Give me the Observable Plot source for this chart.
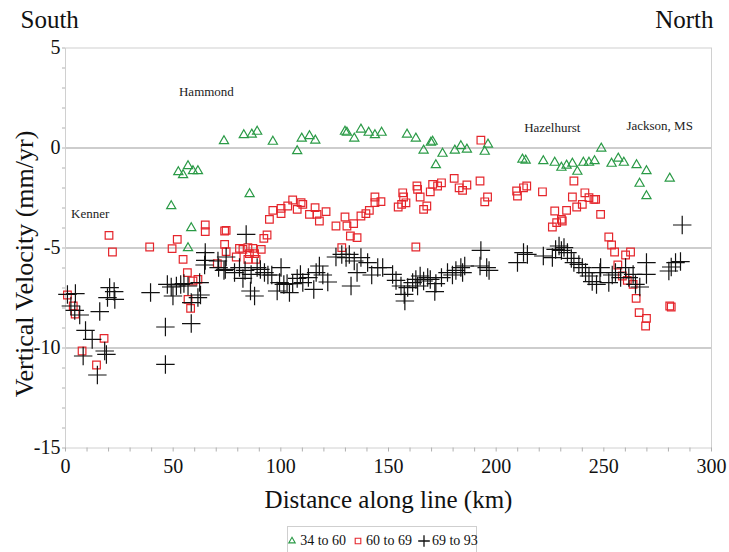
<!DOCTYPE html>
<html><head><meta charset="utf-8">
<script src="https://cdn.jsdelivr.net/npm/d3@7"></script>
<script src="https://cdn.jsdelivr.net/npm/@observablehq/plot@0.6"></script>
<style>
html,body{margin:0;padding:0;background:#fff;}
#wrap{position:relative;width:729px;height:552px;font-family:"Liberation Serif","Times New Roman",serif;overflow:hidden;}
#legend{position:absolute;left:287px;top:526px;width:190px;height:30px;border:1px solid #cfcfcf;box-sizing:border-box;display:flex;align-items:center;justify-content:center;gap:0;font-size:14px;color:#111;white-space:nowrap;}
#legend span{display:inline-flex;align-items:center;margin:0 3px;}
#legend svg{overflow:visible;margin-right:2px;}
</style></head>
<body><div id="wrap"></div>
<script>
// ---- data ----
const seriesNames = ["34 to 60", "60 to 69", "69 to 93"];

const green_km = [49.1,52.4,54.6,56.9,59.2,61.5,58.4,56.9,73.6,82.8,86.5,89.0,96.3,107.6,109.7,113.3,116.0,129.8,130.7,134.1,137.2,140.8,143.7,146.8,85.5,158.6,162.7,166.3,169.7,170.5,172.0,175.1,180.8,183.6,186.4,194.7,196.2,212.2,213.7,221.9,227.2,230.3,232.7,235.4,237.7,240.5,243.1,245.7,248.8,253.6,256.7,259.3,265.2,269.8,266.6,269.8,280.6];
const green_vel = [-2.9,-1.2,-1.35,-0.9,-1.15,-1.15,-4.0,-5.0,0.35,0.65,0.68,0.82,0.32,-0.15,0.48,0.6,0.38,0.82,0.77,0.48,0.93,0.77,0.65,0.77,-2.3,0.68,0.48,-0.12,0.27,0.32,-0.85,-0.28,-0.12,0.1,-0.07,-0.18,0.18,-0.57,-0.62,-0.65,-0.73,-0.98,-0.87,-0.78,-1.18,-0.73,-0.73,-0.65,-0.02,-0.78,-0.52,-0.73,-0.85,-1.15,-1.78,-2.4,-1.52];

const red_km = [0.9,3.6,4.5,20.2,21.8,17.9,7.7,14.4,39.1,49.5,51.9,54.6,56.6,59.2,61.5,56.9,58.1,64.9,64.9,73.9,70.5,74.6,73.9,74.6,80.8,79.3,82.4,84.7,87.0,90.9,85.4,87.8,84.7,88.5,92.1,93.6,94.7,96.3,100.1,100.1,103.2,105.5,107.6,109.4,110.2,113.3,115.9,116.8,117.9,121.0,125.6,129.8,130.7,132.3,135.4,133.8,137.2,139.5,141.1,143.7,143.7,146.5,128.3,154.5,156.6,157.0,158.1,156.1,163.2,163.5,164.7,166.3,167.8,169.4,170.5,172.8,174.6,180.5,182.8,184.4,186.4,192.5,192.9,194.7,196.0,162.7,209.5,209.9,212.7,214.2,221.5,236.1,227.2,226.1,228.1,230.3,230.7,232.7,235.4,237.4,240.0,241.2,243.1,245.4,246.2,248.5,252.3,253.6,255.0,260.1,262.4,256.5,258.6,260.9,263.6,265.0,266.4,269.8,269.4,280.6,281.3];
const red_vel = [-7.35,-7.9,-8.3,-4.37,-5.2,-9.52,-10.15,-10.85,-4.95,-5.03,-4.57,-5.57,-6.23,-6.65,-6.57,-7.57,-8.02,-3.85,-4.18,-4.15,-5.78,-4.12,-4.82,-5.18,-5.02,-5.45,-5.07,-4.98,-5.02,-5.07,-5.28,-5.28,-5.57,-5.57,-4.52,-4.35,-3.57,-3.12,-3.02,-3.28,-2.9,-2.6,-3.07,-2.73,-2.82,-3.32,-2.98,-3.32,-3.65,-3.18,-3.9,-3.45,-3.9,-4.4,-4.48,-3.78,-3.4,-3.28,-3.12,-2.45,-2.73,-2.68,-4.98,-2.95,-2.24,-2.45,-2.74,-2.82,-1.9,-2.07,-2.45,-3.07,-2.9,-2.19,-1.82,-1.9,-1.74,-1.52,-1.99,-2.12,-1.85,-1.65,0.39,-2.69,-2.45,-4.95,-2.15,-2.4,-1.99,-1.9,-2.19,-1.65,-3.15,-3.95,-3.73,-3.57,-3.65,-3.12,-2.45,-2.95,-2.82,-2.24,-2.48,-2.57,-2.57,-3.32,-4.45,-4.85,-5.2,-5.35,-5.2,-5.85,-6.4,-6.62,-6.82,-7.52,-8.23,-8.52,-8.9,-7.9,-7.95];

const black_km = [0.9,4.6,2.5,4.3,6.6,15.9,9.3,12.4,8.2,18.2,19.0,14.8,20.5,19.5,22.6,22.9,39.5,46.4,46.4,47.3,49.1,49.9,51.5,53.5,55.0,56.9,58.4,58.4,61.5,62.7,62.3,64.9,64.9,64.6,70.8,71.1,73.6,74.2,74.6,83.9,78.5,80.8,82.4,83.4,85.9,87.8,86.2,89.0,90.5,92.4,94.0,95.8,98.3,99.4,100.1,101.4,102.9,104.0,105.5,107.6,109.1,110.2,112.8,115.3,116.4,117.9,119.5,121.8,125.6,128.3,130.3,131.8,132.6,134.1,137.2,135.4,140.3,142.2,145.0,147.3,151.9,153.5,155.8,157.3,157.6,158.9,161.2,162.7,163.5,164.7,166.3,168.2,169.4,171.5,172.0,174.6,177.4,179.7,181.3,183.6,185.4,184.4,192.9,192.5,195.6,196.7,209.9,212.7,214.5,221.9,226.1,227.6,229.2,230.3,231.5,233.1,234.9,236.1,238.4,240.0,241.5,243.1,244.6,246.6,248.5,248.2,252.3,253.9,255.4,257.8,260.1,261.6,263.6,264.7,266.7,269.8,269.8,280.2,281.3,283.3,285.6,286.4];
const black_vel = [-7.32,-7.28,-7.9,-8.12,-8.35,-8.18,-9.12,-9.57,-10.4,-10.15,-10.32,-11.35,-6.98,-7.48,-7.18,-7.57,-7.23,-8.95,-10.82,-6.82,-6.95,-7.4,-6.9,-6.82,-6.78,-6.9,-8.78,-7.73,-7.48,-7.35,-6.73,-5.23,-5.62,-5.85,-5.65,-5.98,-6.12,-6.07,-5.45,-4.32,-6.23,-5.98,-6.52,-6.12,-7.15,-7.4,-6.32,-5.98,-6.07,-6.23,-6.35,-6.35,-7.15,-6.73,-5.98,-6.82,-6.78,-7.23,-6.78,-6.52,-6.32,-6.73,-6.48,-7.07,-6.23,-5.9,-6.35,-6.7,-5.45,-5.32,-5.48,-5.32,-6.9,-5.65,-5.48,-6.23,-5.73,-6.35,-5.98,-5.98,-6.32,-6.62,-6.9,-7.32,-7.65,-6.98,-6.73,-6.57,-6.9,-6.4,-6.65,-6.48,-6.57,-7.18,-6.78,-6.48,-6.23,-6.35,-6.12,-5.98,-5.9,-6.23,-5.12,-5.9,-5.98,-6.12,-5.73,-5.23,-5.32,-5.4,-5.48,-5.07,-4.9,-5.12,-4.98,-5.23,-5.52,-5.73,-5.82,-5.98,-6.23,-6.4,-6.68,-6.82,-5.98,-6.23,-6.73,-6.35,-6.23,-6.48,-5.98,-6.48,-6.32,-6.82,-6.95,-5.73,-6.32,-6.15,-5.95,-5.73,-5.68,-3.85];

const city_names = ["Kenner", "Hammond", "Hazelhurst", "Jackson, MS"];
const city_km = [2.6, 52.7, 213.0, 260.5];
const city_vel = [-3.3, 2.83, 1.0, 1.12];

const yTickLabels = [5, 0, -5, -10, -15];
const xTickLabels = [0, 50, 100, 150, 200, 250, 300];
const gridVals = [0, -5, -10];

// ---- build tables ----
const pts = (k, v) => k.map((d, i) => ({km: d, vel: v[i]}));
const green = pts(green_km, green_vel);
const red = pts(red_km, red_vel);
const black = pts(black_km, black_vel);
const cities = city_names.map((n, i) => ({name: n, km: city_km[i], vel: city_vel[i]}));

const C_GREEN = "#2a9a46", C_RED = "#e5262c", C_BLACK = "#111";
const FONT = '"Liberation Serif","Times New Roman",serif';

const chart = Plot.plot({
  width: 729, height: 520,
  marginLeft: 65, marginRight: 18, marginTop: 47.5, marginBottom: 72.5,
  style: {fontFamily: FONT, background: "#fff", color: "#000", overflow: "visible"},
  x: {domain: [0, 300]},
  y: {domain: [-15, 5]},
  marks: [
    Plot.ruleY(gridVals, {stroke: "#bdbdbd", strokeWidth: 1.3}),
    Plot.frame({stroke: "#d0d0d0"}),
    Plot.axisY(d3.range(-15, 6), {tickSize: 3, tickFormat: () => "", stroke: "#b0b0b0", label: null}),
    Plot.axisY(yTickLabels, {tickSize: 0, tickPadding: 5, fontSize: 20, tickFormat: d => String(d), fill: "#111", label: null}),
    Plot.axisX(d3.range(0, 301, 10), {tickSize: 4, tickFormat: () => "", stroke: "#b0b0b0", label: null}),
    Plot.axisX(xTickLabels, {tickSize: 0, tickPadding: 11, fontSize: 20, tickFormat: d => String(d), fill: "#111", label: null}),
    Plot.dot(green, {x: "km", y: "vel", symbol: "triangle", r: 3.4, stroke: C_GREEN, strokeWidth: 1.2, fill: "none"}),
    Plot.dot(red, {x: "km", y: "vel", symbol: "square", r: 4.3, stroke: C_RED, strokeWidth: 1.2, fill: "none"}),
    Plot.dot(black, {x: "km", y: "vel", symbol: "plus", r: 6, stroke: C_BLACK, strokeWidth: 1.2}),
    Plot.text(cities, {x: "km", y: "vel", text: "name", textAnchor: "start", fontSize: 13, fill: "#222"}),
    Plot.text(["South"], {frameAnchor: "top-left", text: d => d, textAnchor: "start", lineAnchor: "bottom", dx: -45, dy: -20, fontSize: 25, fill: "#111"}),
    Plot.text(["North"], {frameAnchor: "top-right", text: d => d, textAnchor: "end", lineAnchor: "bottom", dx: 2, dy: -20, fontSize: 25, fill: "#111"}),
    Plot.text(["Vertical Velocity (mm/yr)"], {frameAnchor: "left", text: d => d, textAnchor: "middle", lineAnchor: "middle", rotate: -90, dx: -41, dy: 16, fontSize: 26, fill: "#111"}),
    Plot.text(["Distance along line (km)"], {frameAnchor: "bottom", text: d => d, textAnchor: "middle", lineAnchor: "middle", dy: 52, dx: 0, fontSize: 25, fill: "#111"})
  ]
});

const wrap = document.getElementById("wrap");
chart.style.position = "absolute";
chart.style.left = "0px";
chart.style.top = "0px";
wrap.appendChild(chart);

// ---- legend ----
const legend = document.createElement("div");
legend.id = "legend";
const legendSym = [
  {type: d3.symbolTriangle2, size: 30, color: C_GREEN, w: 1.1},
  {type: d3.symbolSquare2, size: 40, color: C_RED, w: 1.1},
  {type: d3.symbolPlus, size: 46, color: C_BLACK, w: 1.3}
];
seriesNames.forEach((name, i) => {
  const span = document.createElement("span");
  const s = legendSym[i];
  const svg = d3.create("svg").attr("width", 12).attr("height", 12);
  svg.append("path").attr("transform", "translate(6,6)")
    .attr("d", d3.symbol(s.type, s.size)())
    .attr("fill", "none").attr("stroke", s.color).attr("stroke-width", s.w);
  span.appendChild(svg.node());
  span.appendChild(document.createTextNode(name));
  legend.appendChild(span);
});
wrap.appendChild(legend);
</script>
</body></html>
